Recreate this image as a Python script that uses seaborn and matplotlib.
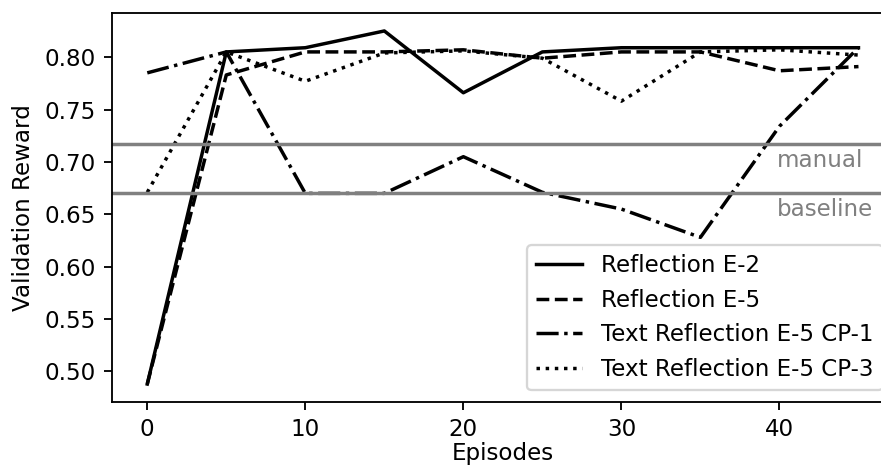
import matplotlib
matplotlib.use("Agg")
import matplotlib.pyplot as plt
import seaborn as sns
import pandas as pd

# Validation reward per evaluation episode
episodes = [0, 5, 10, 15, 20, 25, 30, 35, 40, 45]
reflection_e2 = [0.488, 0.805, 0.809, 0.825, 0.766, 0.805, 0.809, 0.809, 0.809, 0.809]
reflection_e5 = [0.488, 0.783, 0.805, 0.805, 0.807, 0.799, 0.805, 0.805, 0.787, 0.791]
text_reflection_cp1 = [0.785, 0.805, 0.670, 0.670, 0.705, 0.671, 0.655, 0.628, 0.734, 0.809]
text_reflection_cp3 = [0.671, 0.805, 0.777, 0.804, 0.806, 0.799, 0.758, 0.805, 0.807, 0.802]

series_names = ["Reflection E-2", "Reflection E-5",
                "Text Reflection E-5 CP-1", "Text Reflection E-5 CP-3"]
series_values = [reflection_e2, reflection_e5, text_reflection_cp1, text_reflection_cp3]
line_styles = ["-", "--", "-.", ":"]

# Reference levels
ref_names = ["manual", "baseline"]
ref_values = [0.717, 0.670]

DPI = 166
fig = plt.figure(figsize=(881 / DPI, 470 / DPI), dpi=DPI)
ax = fig.add_axes([0.1268, 0.1453, 0.888, 0.8264])

for name, vals, ls in zip(series_names, series_values, line_styles):
    df = pd.DataFrame({"Episodes": episodes, "Validation Reward": vals})
    sns.lineplot(data=df, x="Episodes", y="Validation Reward", ax=ax,
                 color="black", linestyle=ls, linewidth=1.5, label=name)

for name, val in zip(ref_names, ref_values):
    ax.axhline(val, color="gray", linewidth=1.5)
    ax.text(39.85, val - 0.0215, name, color="gray", fontsize=10,
            ha="left", va="baseline")

ax.set_xlabel("Episodes", labelpad=0.5)
ax.set_ylabel("Validation Reward")
ax.legend(loc="lower right")

fig.savefig("out.png", dpi=DPI)
